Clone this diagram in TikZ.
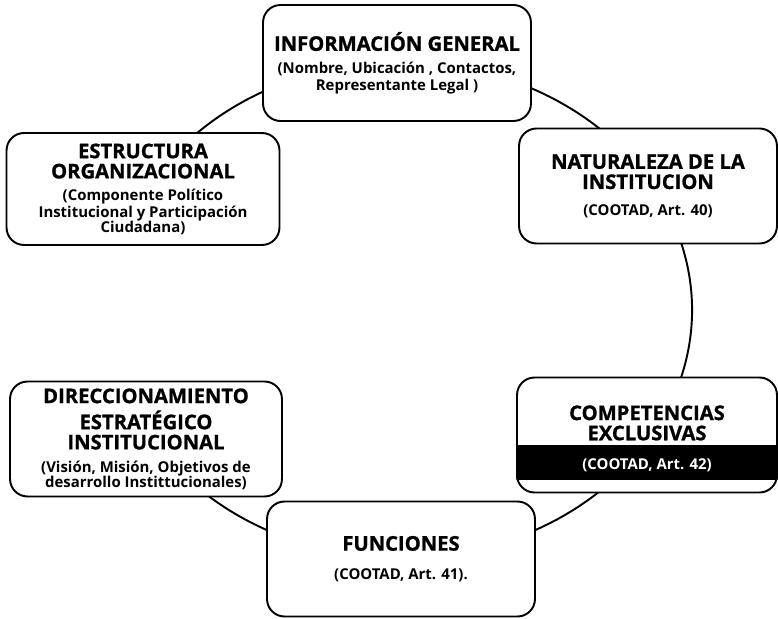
\documentclass[tikz,border=0pt]{standalone}
\usepackage{fontspec}
\setmainfont{Open Sans}
\newfontfamily\titfont[FakeBold=1]{Open Sans}
\usetikzlibrary{positioning}
\begin{document}
\begin{tikzpicture}[x=0.02cm,y=0.02cm,
    caja/.style={draw,line width=1.1pt,rounded corners=0.35cm,fill=white,
      align=center,inner sep=0pt,font=\fontsize{8.5}{8.5}\selectfont\bfseries},
    linea/.style={line width=1.1pt}]
    \def\tit#1{{\titfont\fontsize{11.5}{11.5}\selectfont #1}}
    \useasboundingbox (0,0) rectangle (778,619);
    % elipse que une las cajas
    \coordinate (o) at (401,309);
    \draw [linea] (o) ++(197:291 and 248) arc[start angle=197,end angle=525,x radius=291,y radius=248];
    \node [caja,minimum width=5.36cm,minimum height=2.32cm] (info) at (397,556)
        {\tit{INFORMACIÓN GENERAL}\\[4.5pt] (Nombre, Ubicación , Contactos,\\[1pt] Representante Legal )};
    \node [caja,minimum width=5.46cm,minimum height=2.24cm] (estr) at (143,430)
        {\tit{ESTRUCTURA}\\[3pt] \tit{ORGANIZACIONAL}\\[4pt] (Componente Político\\ Institucional y Participación\\ Ciudadana)};
    \node [caja,minimum width=5.16cm,minimum height=2.30cm] (nat) at (648,433)
        {\tit{NATURALEZA DE LA}\\[3pt] \tit{INSTITUCION}\\[6.5pt] (COOTAD, Art. 40)};
    \node [caja,minimum width=5.44cm,minimum height=2.30cm] (dir) at (146,180)
        {\tit{DIRECCIONAMIENTO}\\[3pt] \tit{ESTRATÉGICO}\\[3pt] \tit{INSTITUCIONAL}\\[4.5pt] (Visión, Misión, Objetivos de\\ desarrollo Instittucionales)};
    \node [caja,minimum width=5.20cm,minimum height=2.30cm] (comp) at (647,184) {};
    \begin{scope}
        \clip [rounded corners=0.35cm] (comp.south west) rectangle (comp.north east);
        \fill (comp.west |- 0,139) rectangle (comp.east |- 0,174);
    \end{scope}
    \node [caja,draw=none,fill=none] (compt) at ([yshift=-2pt]comp)
        {\tit{COMPETENCIAS}\\[3pt] \tit{EXCLUSIVAS}\\[8pt] \textcolor{white}{(COOTAD, Art. 42)}};
    \node [caja,minimum width=5.36cm,minimum height=2.30cm] (func) at (401,60)
        {\tit{FUNCIONES}\\[8pt] (COOTAD, Art. 41).};
\end{tikzpicture}
\end{document}
